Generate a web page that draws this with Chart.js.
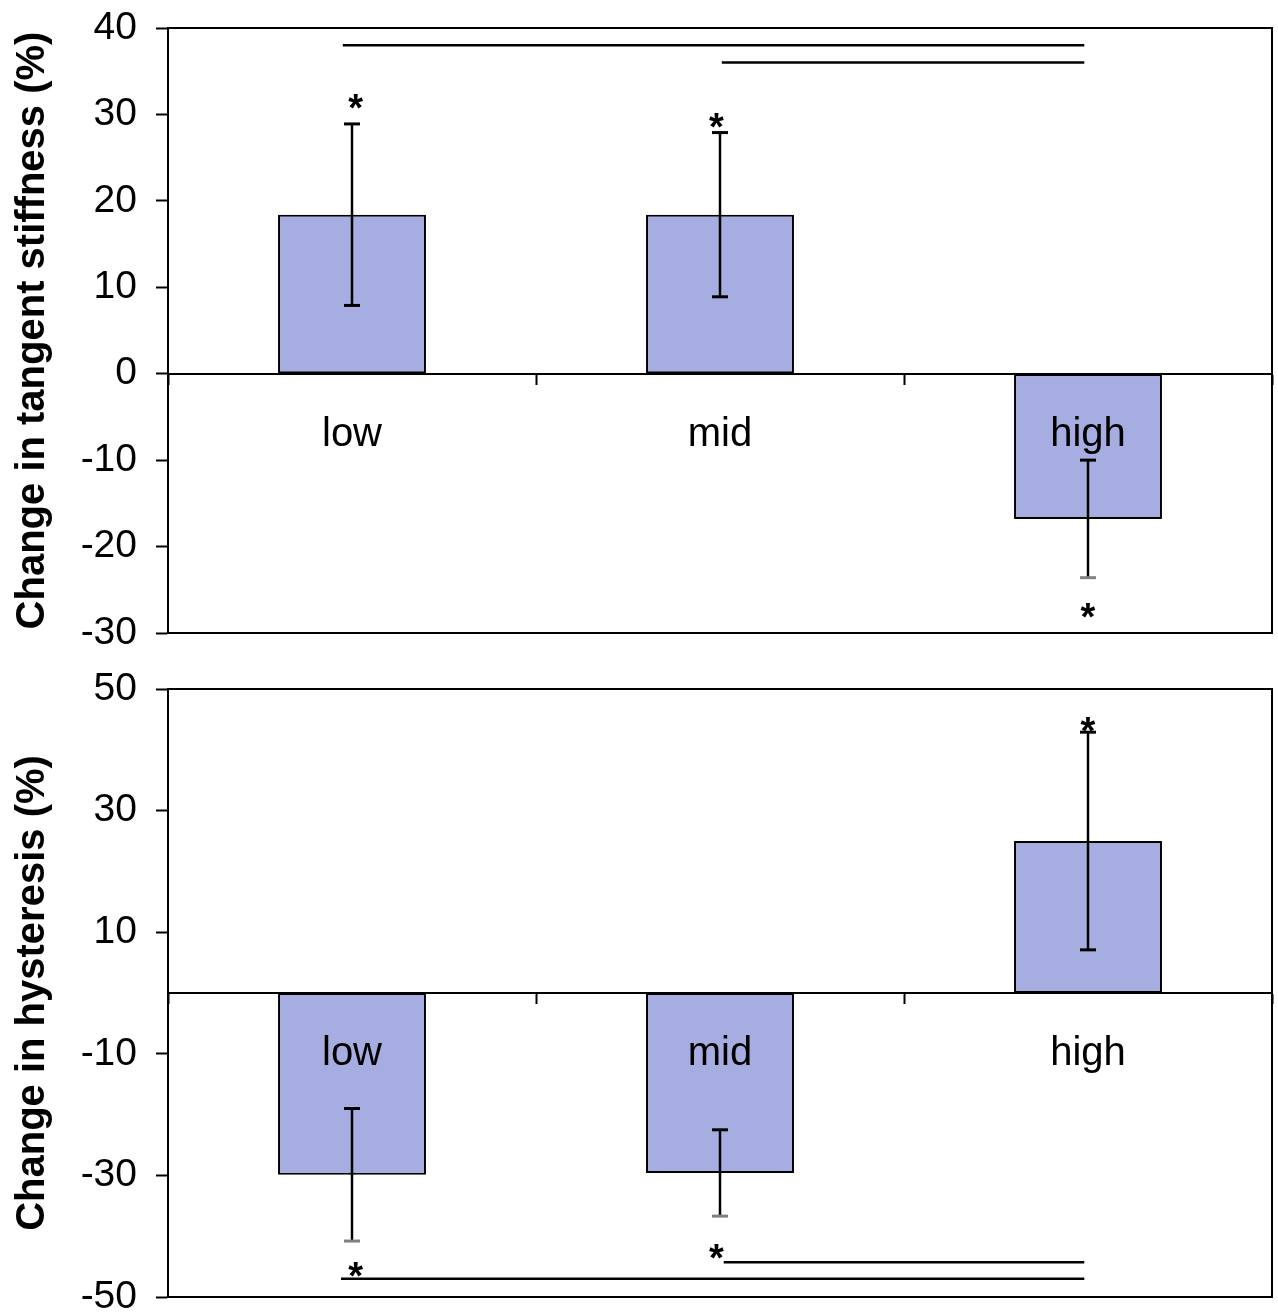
<!DOCTYPE html>
<html lang="en">
<head>
<meta charset="UTF-8">
<title>Change in tangent stiffness and hysteresis</title>
<script src="https://cdn.jsdelivr.net/npm/chart.js@4.4.0/dist/chart.umd.min.js"></script>
<style>
    html, body { margin: 0; padding: 0; background: #fff; overflow: hidden; }
    #top { position: absolute; left: 0; top: -21px; }
    #bottom { position: absolute; left: 0; top: 640px; }
</style>
</head>
<body>
<canvas id="top" width="1278" height="700"></canvas>
<canvas id="bottom" width="1278" height="700"></canvas>
<script>
    const categories = ['low', 'mid', 'high'];

    // tangent stiffness, % change (mean and SD)
    const stiffness = [18.4, 18.4, -16.8];
    const stiffnessErr = [10.5, 9.5, 6.8];
    const stiffnessTicks = [-30, -20, -10, 0, 10, 20, 30, 40];
    // asterisks: [category position, value]
    const stiffnessStars = [[0.01, 31.2], [0.99, 29], [2.0, -27.7]];
    // comparison lines: [from, to, value]
    const stiffnessLines = [[-0.025, 1.99, 38], [1.005, 1.99, 36]];

    // hysteresis, % change (mean and SD)
    const hysteresis = [-29.9, -29.6, 25.0];
    const hysteresisErr = [10.9, 7.1, 17.9];
    const hysteresisTicks = [-50, -30, -10, 10, 30, 50];
    const hysteresisStars = [[0.01, -45.9], [0.99, -42.9], [2.0, 43.7]];
    const hysteresisLines = [[-0.03, 1.99, -47], [1.01, 1.99, -44.3]];

    const FONT = "'Liberation Sans', Arial, sans-serif";

    function makeChart(id, values, errs, ticks, stars, lines, title, min, max, pad) {
        const extras = {
            id: 'extras',
            afterDraw(chart) {
                const { ctx, chartArea: a, scales: { x, y } } = chart;
                ctx.save();
                ctx.strokeStyle = '#000';
                ctx.lineWidth = 2;
                ctx.strokeRect(a.left, a.top, a.width, a.height);

                // error bars
                values.forEach((v, i) => {
                    const px = x.getPixelForValue(i);
                    const hi = y.getPixelForValue(v + errs[i]);
                    const lo = y.getPixelForValue(v - errs[i]);
                    ctx.strokeStyle = '#000';
                    ctx.lineWidth = 2.5;
                    ctx.beginPath();
                    ctx.moveTo(px, hi);
                    ctx.lineTo(px, lo);
                    ctx.stroke();
                    ctx.lineWidth = 3;
                    ctx.beginPath();
                    ctx.moveTo(px - 8, hi); ctx.lineTo(px + 8, hi);
                    ctx.stroke();
                    ctx.strokeStyle = v < 0 ? '#808080' : '#000';
                    ctx.beginPath();
                    ctx.moveTo(px - 8, lo); ctx.lineTo(px + 8, lo);
                    ctx.stroke();
                });

                // comparison lines
                ctx.strokeStyle = '#000';
                ctx.lineWidth = 2.5;
                lines.forEach(l => {
                    const py = y.getPixelForValue(l[2]);
                    ctx.beginPath();
                    ctx.moveTo(x.getPixelForValue(l[0]), py);
                    ctx.lineTo(x.getPixelForValue(l[1]), py);
                    ctx.stroke();
                });

                // asterisks
                ctx.fillStyle = '#000';
                ctx.font = 'bold 38px ' + FONT;
                ctx.textAlign = 'center';
                ctx.textBaseline = 'alphabetic';
                stars.forEach(s => {
                    ctx.fillText('*', x.getPixelForValue(s[0]), y.getPixelForValue(s[1]) + 17);
                });
                ctx.restore();
            }
        };

        return new Chart(document.getElementById(id), {
            type: 'bar',
            data: {
                labels: categories,
                datasets: [{
                    data: values,
                    backgroundColor: '#A5ADE1',
                    borderColor: '#000',
                    borderWidth: 2,
                    borderSkipped: false,
                    barPercentage: 0.402,
                    categoryPercentage: 1
                }]
            },
            options: {
                responsive: false,
                animation: false,
                layout: { padding: pad },
                plugins: { legend: { display: false }, tooltip: { enabled: false } },
                scales: {
                    x: {
                        position: { y: 0 },
                        offset: true,
                        ticks: { z: 1, color: '#000', font: { family: FONT, size: 40 }, padding: 27 },
                        grid: { offset: true, drawOnChartArea: false, tickLength: 10, tickWidth: 2, tickColor: '#000' },
                        border: { color: '#000', width: 2 }
                    },
                    y: {
                        min: min,
                        max: max,
                        afterBuildTicks: s => { s.ticks = ticks.map(v => ({ value: v })); },
                        afterFit: s => { s.width = 168; },
                        ticks: { color: '#000', font: { family: FONT, size: 39 }, padding: 19, callback: v => String(v) },
                        grid: { drawOnChartArea: false, tickLength: 12, tickWidth: 2, tickColor: '#000' },
                        border: { color: '#000', width: 2 },
                        title: {
                            display: true, text: title, color: '#000',
                            font: { family: FONT, size: 40, weight: 'bold' },
                            padding: { top: 9 }
                        }
                    }
                }
            },
            plugins: [extras]
        });
    }

    makeChart('top', stiffness, stiffnessErr, stiffnessTicks, stiffnessStars, stiffnessLines,
        'Change in tangent stiffness (%)', -30, 40, { left: 0, top: 49, right: 6, bottom: 46 });
    makeChart('bottom', hysteresis, hysteresisErr, hysteresisTicks, hysteresisStars, hysteresisLines,
        'Change in hysteresis (%)', -50, 50, { left: 0, top: 49, right: 6, bottom: 43 });
</script>
</body>
</html>
